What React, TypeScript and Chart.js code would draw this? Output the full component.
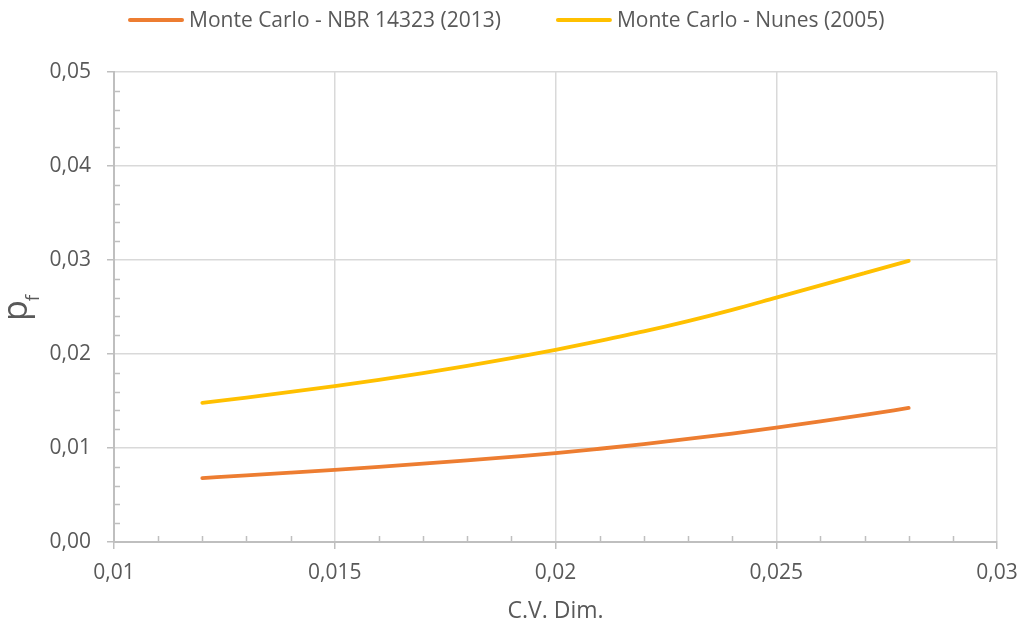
import React, { useEffect, useRef } from 'react';
import { Chart, registerables } from 'chart.js';

Chart.register(...registerables);

// ---- Data ----
const cvDim = [0.012, 0.013, 0.014, 0.015, 0.016, 0.017, 0.018, 0.019, 0.02, 0.021, 0.022, 0.023, 0.024, 0.025, 0.026, 0.027, 0.028];
const pfNbr = [0.0068, 0.00708, 0.00737, 0.00767, 0.00799, 0.00833, 0.00869, 0.00906, 0.00945, 0.00992, 0.01042, 0.01096, 0.01154, 0.01217, 0.01283, 0.01353, 0.01426];
const pfNunes = [0.0148, 0.01536, 0.01596, 0.01659, 0.01726, 0.01797, 0.01873, 0.01955, 0.02045, 0.0214, 0.0224, 0.0235, 0.0247, 0.026, 0.0273, 0.0286, 0.0299];
const seriesLabels = ['Monte Carlo - NBR 14323 (2013)', 'Monte Carlo - Nunes (2005)'];
const seriesColors = ['#ED7D31', '#FFC000'];
const xMajorTicks = [0.01, 0.015, 0.02, 0.025, 0.03];
const yMajorTicks = [0, 0.01, 0.02, 0.03, 0.04, 0.05];
const xMinorTicks = [0.011, 0.012, 0.013, 0.014, 0.016, 0.017, 0.018, 0.019, 0.021, 0.022, 0.023, 0.024, 0.026, 0.027, 0.028, 0.029];
const yMinorTicks = [0.002, 0.004, 0.006, 0.008, 0.012, 0.014, 0.016, 0.018, 0.022, 0.024, 0.026, 0.028, 0.032, 0.034, 0.036, 0.038, 0.042, 0.044, 0.046, 0.048];
const xTitle = 'C.V. Dim.';
const yTitleMain = 'p';
const yTitleSub = 'f';

const FONT = "'Open Sans', sans-serif";
const TEXT = '#595959';
const GRID = '#d9d9d9';
const AXIS = '#bfbfbf';

const fmtX = (v: number) => String(parseFloat(v.toFixed(4))).replace('.', ',');
const fmtY = (v: number) => v.toFixed(2).replace('.', ',');

const decorPlugin = {
  id: 'decor',
  afterDraw(chart: any) {
    const { ctx, chartArea, scales } = chart;
    const xs = scales.x;
    const ys = scales.y;
    ctx.save();
    // minor ticks
    ctx.strokeStyle = AXIS;
    ctx.lineWidth = 1.5;
    ctx.beginPath();
    xMinorTicks.forEach((v) => {
      const px = Math.round(xs.getPixelForValue(v)) + 0.5;
      ctx.moveTo(px, chartArea.bottom);
      ctx.lineTo(px, chartArea.bottom - 6);
    });
    yMinorTicks.forEach((v) => {
      const py = Math.round(ys.getPixelForValue(v)) + 0.5;
      ctx.moveTo(chartArea.left, py);
      ctx.lineTo(chartArea.left + 6, py);
    });
    ctx.stroke();

    // y title: p with subscript f
    ctx.fillStyle = TEXT;
    ctx.rotate(-Math.PI / 2);
    ctx.textBaseline = 'alphabetic';
    ctx.textAlign = 'left';
    ctx.font = `34px ${FONT}`;
    const pW = ctx.measureText(yTitleMain).width;
    const startY = 321;
    ctx.fillText(yTitleMain, -startY, 27);
    ctx.font = `19px ${FONT}`;
    ctx.fillText(yTitleSub, -startY + pW - 1, 39);
    ctx.setTransform(1, 0, 0, 1, 0, 0);

    // legend
    ctx.font = `21px ${FONT}`;
    ctx.textBaseline = 'middle';
    const lineLen = 56;
    const gap = 5;
    const itemGap = 55;
    const widths = chart.data.datasets.map((d: any) => ctx.measureText(d.label).width);
    const total = widths.reduce((a: number, w: number) => a + lineLen + gap + w, 0) + itemGap * (widths.length - 1);
    let x = Math.round(506 - total / 2);
    const ly = 20;
    chart.data.datasets.forEach((d: any, i: number) => {
      ctx.strokeStyle = d.borderColor;
      ctx.lineWidth = 4;
      ctx.lineCap = 'round';
      ctx.beginPath();
      ctx.moveTo(x + 2, ly);
      ctx.lineTo(x + lineLen - 2, ly);
      ctx.stroke();
      ctx.fillStyle = TEXT;
      ctx.fillText(d.label, x + lineLen + gap, ly + 1);
      x += lineLen + gap + widths[i] + itemGap;
    });
    ctx.restore();
  },
};

export default function App() {
  const canvasRef = useRef<HTMLCanvasElement | null>(null);

  useEffect(() => {
    const canvas = canvasRef.current;
    if (!canvas) return;
    const chart = new Chart(canvas, {
      type: 'line',
      data: {
        datasets: [
          {
            label: seriesLabels[0],
            data: cvDim.map((x, i) => ({ x, y: pfNbr[i] })),
            borderColor: seriesColors[0],
            backgroundColor: seriesColors[0],
            borderWidth: 3.8,
            pointRadius: 0,
            cubicInterpolationMode: 'monotone',
            borderCapStyle: 'round',
            fill: false,
          },
          {
            label: seriesLabels[1],
            data: cvDim.map((x, i) => ({ x, y: pfNunes[i] })),
            borderColor: seriesColors[1],
            backgroundColor: seriesColors[1],
            borderWidth: 3.8,
            pointRadius: 0,
            cubicInterpolationMode: 'monotone',
            borderCapStyle: 'round',
            fill: false,
          },
        ],
      },
      options: {
        responsive: false,
        animation: false,
        layout: { padding: { top: 72, right: 25, left: 0, bottom: 0 } },
        plugins: {
          legend: { display: false },
          tooltip: { enabled: false },
        },
        scales: {
          x: {
            type: 'linear',
            min: 0.01,
            max: 0.03,
            afterBuildTicks: (scale: any) => {
              scale.ticks = xMajorTicks.map((v) => ({ value: v }));
            },
            afterFit: (scale: any) => {
              scale.height = 84;
              scale.paddingLeft = 0;
              scale.paddingRight = 0;
            },
            grid: { color: GRID, lineWidth: 1.5, tickLength: 7, tickColor: AXIS, tickWidth: 1.5 },
            border: { color: AXIS, width: 2 },
            ticks: {
              color: TEXT,
              font: { family: FONT, size: 21 },
              padding: 11,
              maxRotation: 0,
              autoSkip: false,
              callback: (v: any) => fmtX(Number(v)),
            },
            title: {
              display: true,
              text: xTitle,
              color: TEXT,
              font: { family: FONT, size: 23 },
              padding: { top: 0, bottom: 1 },
            },
          },
          y: {
            type: 'linear',
            min: 0,
            max: 0.05,
            afterBuildTicks: (scale: any) => {
              scale.ticks = yMajorTicks.map((v) => ({ value: v }));
            },
            afterFit: (scale: any) => {
              scale.width = 114;
              scale.paddingTop = 0;
              scale.paddingBottom = 0;
            },
            grid: { color: GRID, lineWidth: 1.5, tickLength: 7, tickColor: AXIS, tickWidth: 1.5 },
            border: { color: AXIS, width: 2 },
            ticks: {
              color: TEXT,
              font: { family: FONT, size: 21 },
              padding: 16,
              autoSkip: false,
              callback: (v: any) => fmtY(Number(v)),
            },
          },
        },
      },
      plugins: [decorPlugin],
    } as any);
    return () => chart.destroy();
  }, []);

  return (
    <div style={{ position: 'fixed', left: 0, top: 0, width: 1022, height: 626, background: '#fff' }}>
      <canvas ref={canvasRef} width={1022} height={626} style={{ display: 'block' }} />
    </div>
  );
}
